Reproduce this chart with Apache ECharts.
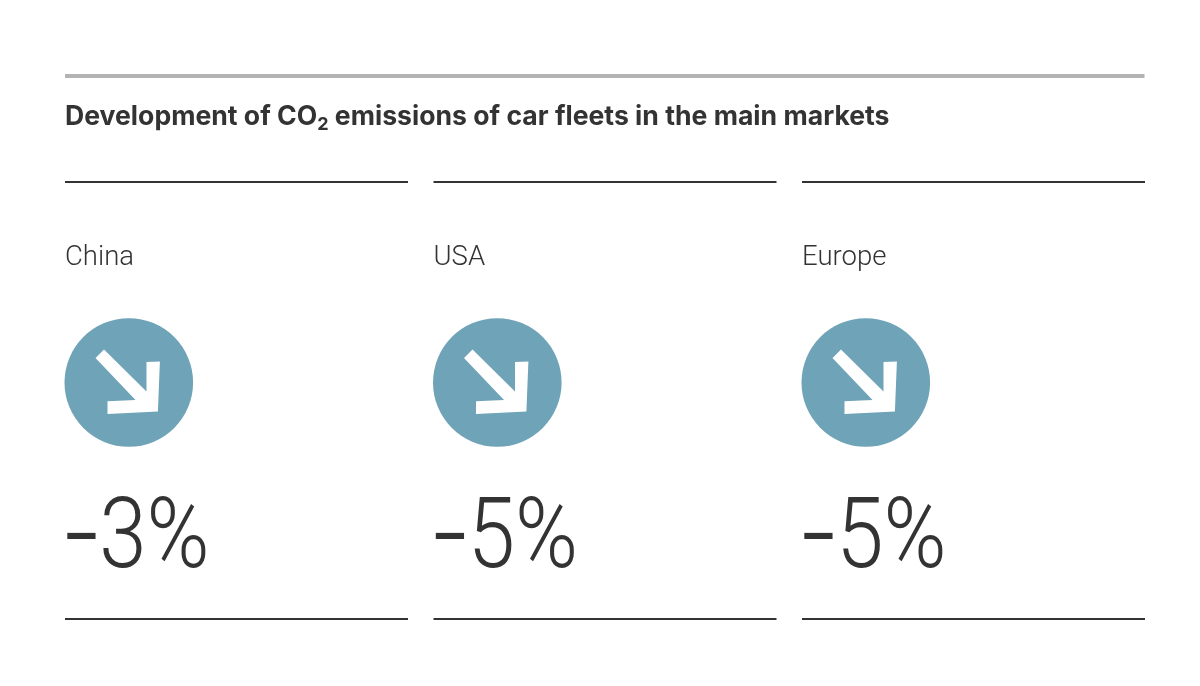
<!DOCTYPE html>
<html><head><meta charset="utf-8">
<style>html,body{margin:0;padding:0;background:#fff}#c{width:1200px;height:686px}</style>
<script src="https://cdn.jsdelivr.net/npm/echarts@6/dist/echarts.min.js"></script>
</head><body><div id="c"></div>
<script>
const regions = ['China', 'USA', 'Europe'];
const changes = [-3, -5, -5];

const chart = echarts.init(document.getElementById('c'), null, {renderer: 'canvas'});
const dark = '#333333', blue = '#6fa3b8', FONT = 'Roboto';

function renderItem(params, api) {
  const i = api.value(0);
  const [cx, cy] = api.coord([i, 0]);
  const left = cx - 63.5, w = 343;
  const arrow = [[-33,-24.5],[-24.5,-33],[18,9],[18,-20.6],[31.4,-21],[29.4,29],[-21,31.4],[-21,18.7],[7,17.5]];
  const rule = y => ({type:'rect', shape:{x:left, y:y-1, width:w, height:2}, style:{fill:'#333'}});
  return {type:'group', children:[
    rule(182), rule(619),
    {type:'text', style:{x:left, y:258, text:regions[i], font:'300 27.5px '+FONT, fill:dark, verticalAlign:'middle', textAlign:'left'}},
    {type:'circle', shape:{cx: cx+0.3, cy, r:64.3}, style:{fill:blue}},
    {type:'polygon', shape:{points:arrow.map(p=>[cx+p[0], cy+p[1]])}, style:{fill:'#fff'}},
    {type:'text', x:left-2, y:542.5, scaleX:0.87, scaleY:1,
     style:{x:0, y:0, text:'{d|\u2013}{n|'+Math.abs(api.value(1))+'%}', verticalAlign:'middle', textAlign:'left', fill:dark,
       rich:{d:{fontFamily:FONT, fontWeight:500, fontSize:65, fill:dark, lineHeight:120},
             n:{fontFamily:FONT, fontWeight:350, fontSize:98, fill:dark, lineHeight:120}}}}
  ]};
}

chart.setOption({
  animation:false,
  backgroundColor:'#fff',
  title:{left:65, top:99.5, padding:0,
    text:'Development of CO{sub|2} emissions of car fleets in the main markets',
    textStyle:{fontFamily:'Inter', fontWeight:700, fontSize:26.6, color:dark, lineHeight:34,
      rich:{sub:{fontFamily:'Inter', fontWeight:700, fontSize:18, color:dark, verticalAlign:'bottom', padding:[10,0,0,0], lineHeight:34}}}},
  graphic:[{type:'rect', shape:{x:65, y:74, width:1079.5, height:4}, style:{fill:'#b3b3b3'}}],
  grid:{left:128.5, width:737, top:182, height:401},
  xAxis:{type:'value', min:0, max:2, show:false},
  yAxis:{type:'value', min:-1, max:1, show:false},
  series:[{type:'custom', clip:false, renderItem, encode:{x:0,y:2}, data:changes.map((v,i)=>[i,v,0])}]
});
</script></body></html>
